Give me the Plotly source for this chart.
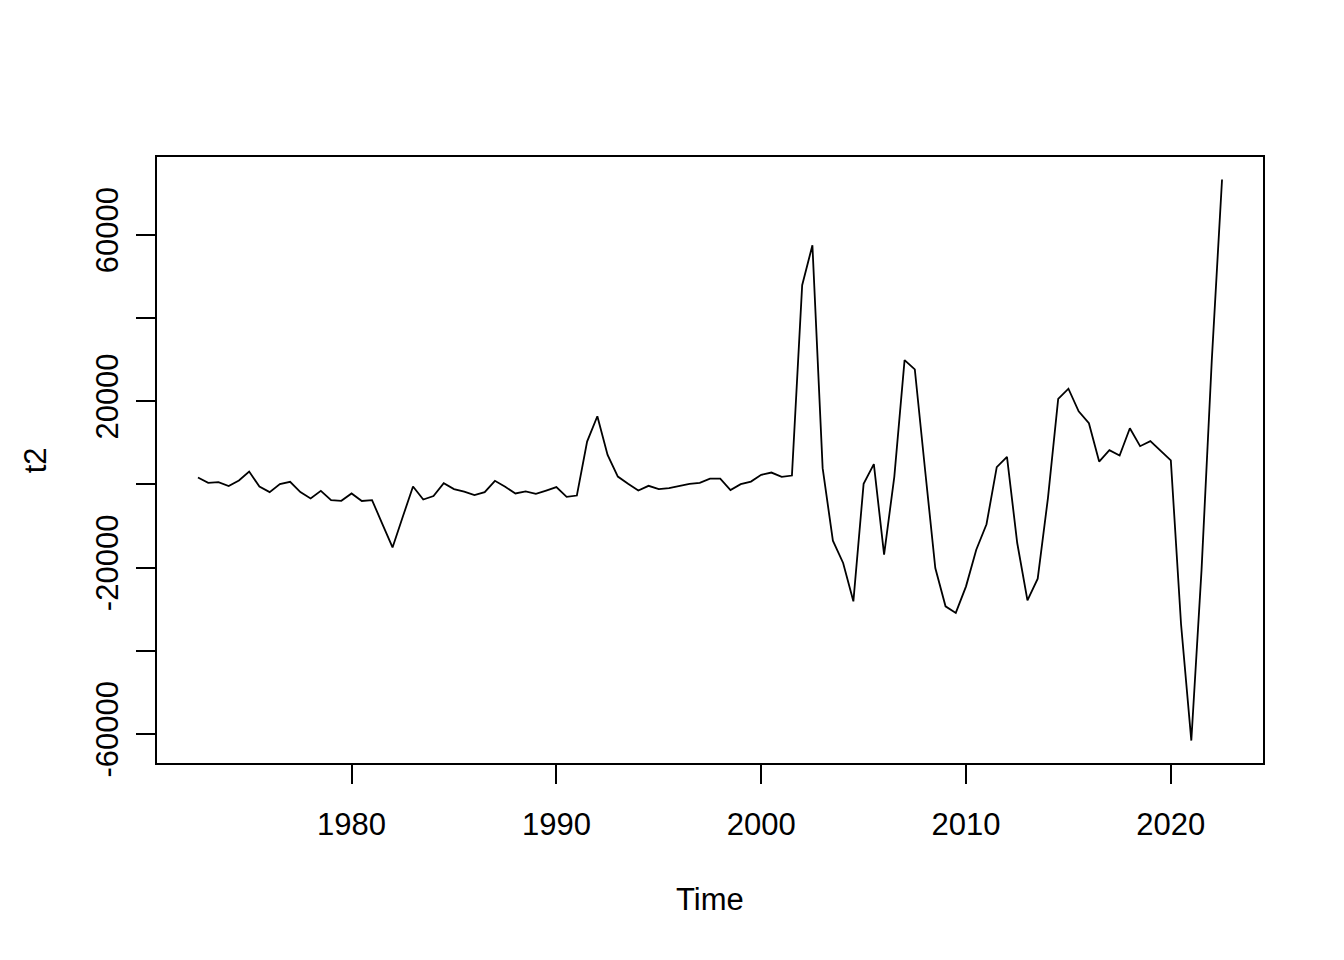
import numpy as np
import plotly.graph_objects as go

start_year = 1972.5
step = 0.5
t2_values = [
    1630, 360, 530, -430, 910, 3070, -530, -1870, 50, 600,
    -1870, -3400, -1560, -3790, -3960, -2200, -4000, -3790, -9500, -15170,
    -7800, -530, -3650, -2830, 290, -1150, -1730, -2590, -1870, 840,
    -600, -2200, -1680, -2280, -1490, -670, -3000, -2690, 10270, 16370,
    7080, 1870, 120, -1490, -360, -1150, -910, -360, 100, 360,
    1390, 1390, -1390, 50, 670, 2280, 2830, 1800, 2110, 47880,
    57480, 3890, -13560, -18910, -28130, 120, 4850, -16920, 1870, 29880,
    27650, 3500, -20110, -29330, -30910, -24530, -15720, -9600, 4130, 6600,
    -14110, -27890, -22680, -3310, 20520, 22990, 17570, 14690, 5470, 8210,
    6910, 13490, 9170, 10370, 8040, 5760, -33700, -61600, -20500, 29900,
    73300,
]
x_tick_vals = [1980, 1990, 2000, 2010, 2020]
y_tick_vals = [-60000, -40000, -20000, 0, 20000, 40000, 60000]
y_tick_text = ["-60000", "", "-20000", "", "20000", "", "60000"]

times = start_year + step * np.arange(len(t2_values))

def ext(lo, hi):
    d = (hi - lo) * 0.04
    return [lo - d, hi + d]

xr = ext(times.min(), times.max())
yr = ext(min(t2_values), max(t2_values))

FONT = "Liberation Sans, Arial, Helvetica, sans-serif"

fig = go.Figure()
fig.add_trace(go.Scatter(x=times, y=t2_values, mode="lines",
                         line=dict(color="black", width=1.8),
                         hoverinfo="skip", showlegend=False))

axis_common = dict(showgrid=False, zeroline=False, showline=True, mirror=True,
                   linecolor="black", linewidth=1.5, ticks="outside",
                   ticklen=19, tickwidth=1.5, tickcolor="black",
                   tickfont=dict(family=FONT, size=31, color="black"))

fig.update_xaxes(range=xr, tickmode="array", tickvals=x_tick_vals,
                 ticktext=[str(v) for v in x_tick_vals],
                 ticklabelstandoff=14, **axis_common)
fig.update_yaxes(range=yr, tickmode="array", tickvals=y_tick_vals,
                 ticktext=y_tick_text, tickangle=-90,
                 ticklabelstandoff=6, **axis_common)

fig.add_annotation(text="Time", xref="paper", yref="paper", x=0.5, y=-0.226,
                   xanchor="center", yanchor="middle", showarrow=False,
                   font=dict(family=FONT, size=31, color="black"))
fig.add_annotation(text="t2", xref="paper", yref="paper", x=-0.110, y=0.5,
                   xanchor="center", yanchor="middle", showarrow=False, textangle=-90,
                   font=dict(family=FONT, size=31, color="black"))

fig.update_layout(width=1344, height=960,
                  margin=dict(l=149, r=89, t=149, b=205, pad=0),
                  paper_bgcolor="white", plot_bgcolor="white")

fig.write_html("out.html")
